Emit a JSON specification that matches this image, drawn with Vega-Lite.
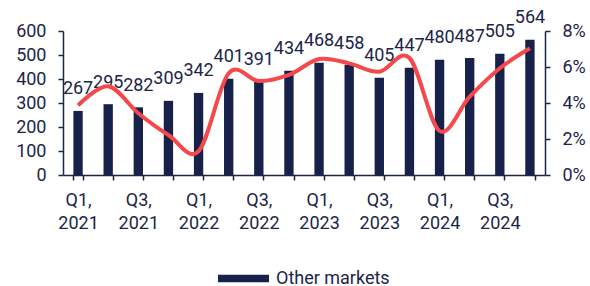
{
  "$schema": "https://vega.github.io/schema/vega-lite/v6.json",
  "width": 482,
  "height": 144,
  "autosize": {"type": "none"},
  "padding": {"left": 63, "top": 31, "right": 45, "bottom": 111},
  "background": "white",
  "config": {
    "font": "Roboto",
    "view": {"stroke": null},
    "axis": {
      "grid": false,
      "labelColor": "#1b2548",
      "domainColor": "#1b2548",
      "tickColor": "#1b2548",
      "labelFontSize": 18,
      "labelFont": "Roboto",
      "labelOverlap": false,
      "domainWidth": 1.5,
      "tickWidth": 1.5,
      "tickSize": 5,
      "title": null
    }
  },
  "data": {
    "values": [
      {"quarter": "Q1, 2021", "value": 267, "pct": 3.87, "series": "Other markets"},
      {"quarter": "Q2, 2021", "value": 295, "pct": 4.93, "series": "Other markets"},
      {"quarter": "Q3, 2021", "value": 282, "pct": 3.43, "series": "Other markets"},
      {"quarter": "Q4, 2021", "value": 309, "pct": 2.22, "series": "Other markets"},
      {"quarter": "Q1, 2022", "value": 342, "pct": 1.32, "series": "Other markets"},
      {"quarter": "Q2, 2022", "value": 401, "pct": 5.65, "series": "Other markets"},
      {"quarter": "Q3, 2022", "value": 391, "pct": 5.22, "series": "Other markets"},
      {"quarter": "Q4, 2022", "value": 434, "pct": 5.56, "series": "Other markets"},
      {"quarter": "Q1, 2023", "value": 468, "pct": 6.44, "series": "Other markets"},
      {"quarter": "Q2, 2023", "value": 458, "pct": 6.2, "series": "Other markets"},
      {"quarter": "Q3, 2023", "value": 405, "pct": 5.74, "series": "Other markets"},
      {"quarter": "Q4, 2023", "value": 447, "pct": 6.5, "series": "Other markets"},
      {"quarter": "Q1, 2024", "value": 480, "pct": 2.45, "series": "Other markets"},
      {"quarter": "Q2, 2024", "value": 487, "pct": 4.35, "series": "Other markets"},
      {"quarter": "Q3, 2024", "value": 505, "pct": 5.93, "series": "Other markets"},
      {"quarter": "Q4, 2024", "value": 564, "pct": 7.04, "series": "Other markets"}
    ]
  },
  "encoding": {
    "x": {
      "field": "quarter",
      "type": "ordinal",
      "sort": null,
      "scale": {"paddingInner": 0.69, "paddingOuter": 0.345},
      "axis": {
        "labelAngle": 0,
        "tickBand": "extent",
        "labelPadding": 11,
        "labelLineHeight": 23.4,
        "labelOverlap": false,
        "labelExpr": "(substring(datum.value,0,2)=='Q1'||substring(datum.value,0,2)=='Q3') ? split(datum.value,' ') : ''"
      }
    }
  },
  "layer": [
    {
      "encoding": {
        "y": {
          "field": "value",
          "type": "quantitative",
          "scale": {"domain": [0, 600]},
          "axis": {"orient": "left", "values": [0, 100, 200, 300, 400, 500, 600], "labelOverlap": false, "labelPadding": 12}
        }
      },
      "layer": [
        {
          "mark": {"type": "bar"},
          "encoding": {
            "color": {
              "field": "series",
              "type": "nominal",
              "scale": {"range": ["#17214a"]},
              "legend": {
                "orient": "none",
                "legendX": 155,
                "legendY": 222,
                "direction": "horizontal",
                "title": null,
                "padding": 0,
                "symbolType": "M-1,-0.147L1,-0.147L1,0.147L-1,0.147Z",
                "symbolSize": 2601,
                "symbolStrokeWidth": 0,
                "symbolOpacity": 1,
                "labelFontSize": 18,
                "labelFont": "Roboto",
                "labelColor": "#1b2548",
                "labelOffset": 7
              }
            }
          }
        },
        {
          "mark": {"type": "text", "fontSize": 18, "color": "#1b2548", "baseline": "alphabetic", "dy": -16.5, "align": "center"},
          "encoding": {
            "text": {"field": "value", "type": "quantitative"}
          }
        }
      ]
    },
    {
      "mark": {"type": "line", "interpolate": "cardinal", "color": "#f4484b", "strokeWidth": 4},
      "encoding": {
        "y": {
          "field": "pct",
          "type": "quantitative",
          "scale": {"domain": [0, 8]},
          "axis": {"orient": "right", "values": [0, 2, 4, 6, 8], "labelExpr": "datum.value + '%'", "labelPadding": 12}
        }
      }
    }
  ],
  "resolve": {"scale": {"y": "independent"}}
}
